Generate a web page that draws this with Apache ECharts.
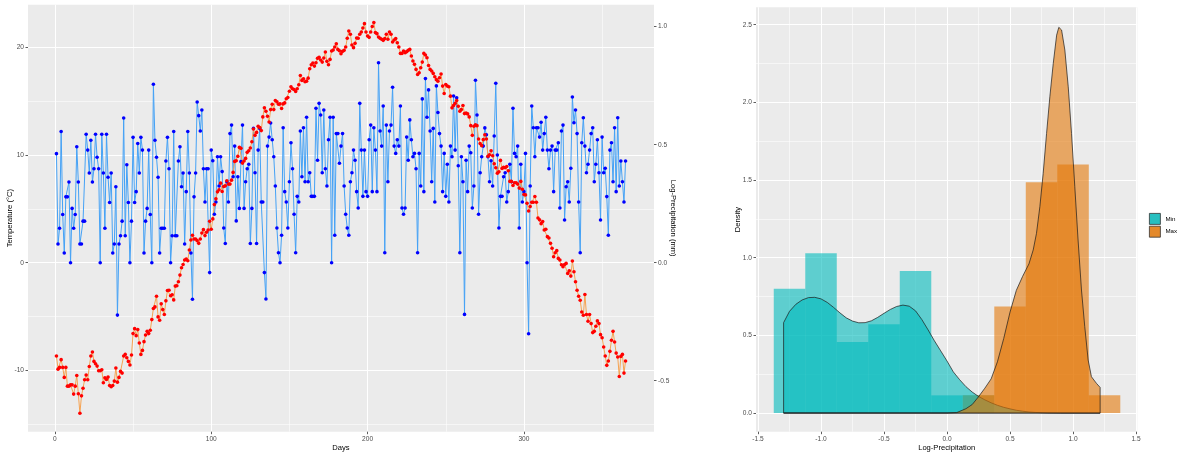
<!DOCTYPE html>
<html><head><meta charset="utf-8">
<script src="https://cdn.jsdelivr.net/npm/echarts@6/dist/echarts.min.js"></script>
<style>html,body{margin:0;padding:0;background:#fff}#c{width:1177px;height:452px}</style>
</head><body><div id="c"></div>
<script>
// ---------- Left panel data ----------
const temperature = [
-8.66,-9.88,-9.72,-9.0,-9.72,-10.65,-9.72,-11.46,-11.46,-11.34,
-11.34,-12.2,-11.46,-10.47,-12.17,-13.98,-12.36,-11.65,-10.87,-10.43,
-10.87,-9.63,-8.66,-8.29,-9.16,-9.38,-9.6,-10.03,-10.03,-9.94,
-11.15,-10.68,-10.84,-10.62,-11.4,-11.52,-11.4,-10.99,-9.78,-11.09,
-10.65,-10.09,-10.25,-8.66,-8.51,-8.82,-9.16,-9.5,-8.57,-6.58,
-6.12,-6.77,-6.21,-7.45,-8.51,-8.14,-7.33,-6.71,-6.37,-6.58,
-6.27,-5.28,-4.25,-4.1,-3.11,-5.03,-5.34,-3.82,-4.35,-4.81,
-3.54,-2.58,-2.55,-3.07,-2.98,-3.45,-2.17,-2.14,-1.77,-1.15,
-0.47,-0.16,0.25,0.34,0.19,1.18,2.11,2.55,2.2,
2.2,2.05,1.8,2.2,2.76,3.07,2.52,2.83,3.04,3.85,
3.11,4.07,5.4,5.93,6.58,6.77,7.39,6.61,7.08,7.14,
7.61,7.3,7.3,7.67,8.39,9.41,9.47,9.88,10.71,10.62,
9.25,9.44,9.69,10.25,10.4,10.65,11.24,12.42,11.83,12.1,
12.67,12.55,12.27,13.54,14.38,14.07,13.6,13.07,14.22,14.72,
14.22,15.06,14.94,14.72,14.75,14.32,14.75,
14.84,15.22,15.34,15.93,16.34,16.15,16.09,15.9,16.15,16.52,
17.39,16.93,17.08,16.8,16.86,17.14,18.01,18.39,18.54,18.26,
18.57,18.98,19.07,18.82,18.63,19.01,19.57,18.7,18.39,18.88,
19.66,19.75,20.03,20.34,19.81,19.69,19.41,19.63,19.72,20.03,
20.84,21.52,21.21,20.22,19.97,20.37,20.87,20.84,21.21,21.43,
21.8,22.2,21.43,21.06,20.93,21.43,21.93,22.3,21.37,
21.27,20.96,20.84,20.75,20.65,20.81,21.21,20.75,21.43,21.21,
20.5,20.68,20.81,20.43,20.03,19.44,19.44,19.66,19.5,19.6,
19.72,19.81,19.19,18.73,18.42,17.95,17.48,17.64,18.11,18.63,
19.44,19.29,19.04,18.32,17.95,17.8,17.58,17.27,17.0,16.86,
17.17,17.52,16.4,15.71,16.55,16.4,16.34,15.47,14.38,14.6,
14.8,15.06,14.53,14.07,14.22,14.6,13.85,13.91,13.82,13.54,
12.73,11.83,12.67,12.8,12.73,11.49,11.06,10.87,11.43,11.89,
11.49,9.88,10.03,10.4,9.94,9.19,8.82,8.32,8.45,9.5,
8.76,8.85,8.82,8.94,8.54,7.55,7.55,7.17,7.42,7.42,
7.3,6.93,7.55,6.83,6.34,6.3,5.53,4.81,5.22,5.62,
5.62,6.15,5.62,4.16,3.98,3.63,3.82,3.04,3.11,2.42,
2.3,1.8,1.34,0.56,0.93,1.12,0.4,0.25,-0.19,-0.37,
-0.16,-0.06,-0.99,-0.75,-1.24,0.16,-0.84,-1.77,-2.55,-3.11,
-3.48,-4.57,-4.88,-2.95,-4.81,-5.43,-4.81,-5.65,-6.49,-6.37,
-5.9,-5.4,-5.65,-6.68,-6.96,-7.83,-8.66,-9.53,-9.13,-8.23,
-7.2,-6.37,-7.36,-8.39,-8.76,-10.56,-8.7,-8.51,-10.25,-9.13
];
const logPrecip = [
0.462,0.079,0.146,0.556,0.204,0.041,0.279,0.279,0.342,0,
0.230,0.146,0.204,0.491,0.342,0.079,0.079,0.176,0.176,0.544,
0.477,0.380,0.519,0.342,0.398,0.544,0.447,0.398,0,0.544,
0.380,0.146,0.544,0.362,0.255,0.380,0.041,0.079,0.322,-0.222,
0.079,0.114,0.176,0.613,0.114,0.415,0.255,0,0.176,0.531,
0.255,0.301,0.505,0.380,0.531,0.477,0.041,0.176,0.230,0.477,
0.204,0,0.756,0.519,0.447,0.362,0.041,0.146,0.146,0.146,
0.431,0.531,0.398,0,0.114,0.556,0.114,0.114,0.431,0.491,
0.322,0.380,0.079,0.301,0.556,0.380,0.041,-0.155,0.279,0.380,
0.681,0.623,
0.558,0.647,0.398,0.257,0.398,0.398,-0.042,0.477,0.432,0.205,
0.257,0.449,0.325,0.449,0.386,0.147,0.081,0.343,0.257,0.547,
0.583,0.364,0.494,0.177,0.364,0.230,0.428,0.583,0.230,0.343,
0.398,0.417,0.081,0.230,0.569,0.381,0.081,0.477,0.569,0.257,
0.257,-0.042,-0.154,0.494,0.532,0.592,0.521,0.449,0.325,0.147,
0.042,0.0,0.116,0.572,
0.301,0.257,0.147,0.343,0.508,0.398,0.205,0.042,0.281,0.257,
0.558,0.364,0.572,0.343,0.616,0.343,0.381,0.281,0.281,0.281,
0.654,0.434,0.675,0.626,0.381,0.647,0.398,0.325,0.521,0.616,
0.0,0.616,0.116,0.547,0.547,0.421,0.494,0.547,0.325,0.205,
0.147,0.116,0.343,0.381,0.477,0.434,0.301,0.232,0.675,0.477,
0.281,0.477,0.301,0.281,0.521,0.583,0.301,0.572,0.477,0.301,
0.847,0.558,
0.494,0.664,0.042,0.583,0.343,0.558,0.583,0.743,0.494,0.463,
0.521,0.494,0.664,0.232,0.205,0.232,0.532,0.434,0.605,0.521,
0.449,0.463,0.398,0.042,0.463,0.325,0.694,0.301,0.780,0.616,
0.732,0.558,0.343,0.569,0.257,0.749,0.636,0.547,0.494,0.301,
0.463,0.281,0.417,0.257,0.494,0.449,0.706,0.477,0.699,0.411,
0.042,0.449,0.343,-0.219,0.434,0.301,0.494,
0.466,0.232,0.325,0.773,0.626,0.205,0.381,0.449,0.494,0.571,
0.542,0.449,0.343,0.432,0.325,0.537,0.760,0.456,0.147,0.281,
0.281,0.364,0.381,0.257,0.301,0.417,0.343,0.654,0.463,0.449,
0.494,0.147,0.417,0.257,0.301,0.463,0.0,-0.301,0.325,0.664,
0.572,0.449,0.572,0.572,0.532,0.595,0.477,0.547,0.616,0.477,
0.398,0.477,0.494,0.301,0.477,0.477,0.508,0.232,0.558,0.583,
0.181,
0.322,0.343,0.257,0.400,0.702,0.593,0.647,0.547,0.257,0.042,
0.508,0.614,0.494,0.381,0.417,0.477,0.547,0.572,0.343,0.417,
0.521,0.381,0.181,0.532,0.381,0.400,0.280,0.116,0.477,0.508,
0.343,0.572,0.301,0.614,0.325,0.431,0.343,0.257,0.431
];
const days = temperature.map((_, i) => i + 1);
const dayTicks = [0, 100, 200, 300];
const tempTicks = [-10, 0, 10, 20];
const precipTicks = [-0.5, 0, 0.5, 1.0];

// ---------- Right panel data ----------
const binEdges = [-1.375,-1.125,-0.875,-0.625,-0.375,-0.125,0.125,0.375,0.625,0.875,1.125,1.375];
const minHist = [0.800,1.029,0.457,0.571,0.914,0.114,0.114,0,0,0,0];
const maxHist = [0,0,0,0,0,0,0.114,0.686,1.486,1.600,0.114];
const minDensity = [
[-1.297,0.582],[-1.25,0.655],[-1.2,0.70],[-1.15,0.728],[-1.1,0.743],[-1.05,0.745],[-1.0,0.735],
[-0.95,0.712],[-0.9,0.68],[-0.85,0.645],[-0.8,0.613],[-0.75,0.592],[-0.7,0.581],[-0.65,0.582],
[-0.6,0.594],[-0.55,0.616],[-0.5,0.642],[-0.45,0.667],[-0.4,0.686],[-0.35,0.695],[-0.3,0.688],
[-0.25,0.658],[-0.2,0.602],[-0.15,0.535],[-0.1,0.465],[-0.05,0.40],[0,0.335],[0.05,0.265],
[0.1,0.215],[0.15,0.17],[0.2,0.135],[0.25,0.107],[0.3,0.085],[0.35,0.066],[0.4,0.05],
[0.45,0.037],[0.5,0.027],[0.55,0.018],[0.6,0.012],[0.65,0.007],[0.7,0.004],[0.8,0.001],
[0.9,0],[1.215,0]
];
const maxDensity = [
[-1.297,0],[0.0,0],[0.077,0.003],[0.15,0.028],[0.2,0.055],[0.25,0.105],[0.3,0.16],[0.35,0.22],
[0.4,0.33],[0.45,0.48],[0.5,0.65],[0.55,0.79],[0.6,0.88],[0.65,0.96],[0.684,1.05],[0.71,1.157],
[0.737,1.33],[0.763,1.543],[0.79,1.8],[0.816,2.036],[0.843,2.251],[0.87,2.433],[0.887,2.483],
[0.909,2.466],[0.935,2.337],[0.962,2.1],[0.988,1.8],[1.014,1.457],[1.04,1.114],[1.067,0.792],
[1.093,0.556],[1.12,0.341],[1.146,0.234],[1.186,0.191],[1.215,0.165]
];
const xTicksR = [-1.5,-1.0,-0.5,0,0.5,1.0,1.5];
const yTicksR = [0,0.5,1.0,1.5,2.0,2.5];
const groupNames = ['Min', 'Max'];

// ---------- styles ----------
const FONT = 'Liberation Sans, Arial, sans-serif';
const TEAL = 'rgba(0,186,188,0.6)';
const ORANGE = 'rgba(228,120,8,0.6)';
const tickLabel = {color:'#4D4D4D', fontSize:6.6, fontFamily:FONT, margin:4};
const tickStyle = {show:true, length:2.5, lineStyle:{color:'#333', width:0.8}};
const nameStyle = {color:'#000', fontSize:7.6, fontFamily:FONT};
const major = {show:true, lineStyle:{color:'#FFFFFF', width:1}};
const minor = {show:true, lineStyle:{color:'#FFFFFF', width:0.55}};
const fmt1 = v => v.toFixed(1);

function valueAxis(o) {
  return Object.assign({
    type:'value', axisLine:{show:false, onZero:false},
    splitLine:major, minorSplitLine:minor, minorTick:{show:false, splitNumber:2},
    nameLocation:'middle', nameTextStyle:nameStyle, nameMoveOverlap:false
  }, o);
}

function histSeries(name, vals, color) {
  const data = [];
  vals.forEach((v, i) => { if (v > 0) data.push([binEdges[i], binEdges[i + 1], v]); });
  return {
    type:'custom', name, xAxisIndex:1, yAxisIndex:2, data,
    encode:{x:[0,1], y:2}, itemStyle:{color},
    renderItem(params, api) {
      const a = api.coord([api.value(0), api.value(2)]);
      const b = api.coord([api.value(1), 0]);
      return {type:'rect', shape:{x:a[0], y:a[1], width:b[0]-a[0], height:b[1]-a[1]},
              style:{fill:color}};
    }
  };
}
function densSeries(name, pts, color) {
  return {
    type:'custom', name, xAxisIndex:1, yAxisIndex:2, data:pts,
    encode:{x:0, y:1}, itemStyle:{color},
    renderItem(params, api) {
      if (params.dataIndex !== 0) return null;
      const ring = [[pts[0][0], 0]].concat(pts, [[pts[pts.length-1][0], 0]]);
      return {type:'polygon', shape:{points:ring.map(p => api.coord(p))},
              style:{fill:color, stroke:'#1A1A1A', lineWidth:0.7}};
    }
  };
}

const chart = echarts.init(document.getElementById('c'), null, {renderer:'canvas'});
chart.setOption({
  animation:false,
  backgroundColor:'#FFFFFF',
  grid:[
    {left:28, top:4.7, width:626, height:427, show:true, backgroundColor:'#EBEBEB', borderWidth:0,
     containLabel:false, outerBoundsMode:'none'},
    {left:756, top:7.3, width:381.3, height:424.4, show:true, backgroundColor:'#EBEBEB', borderWidth:0,
     containLabel:false, outerBoundsMode:'none'}
  ],
  xAxis:[
    valueAxis({gridIndex:0, min:-17.2, max:383.2, splitNumber:4,
      axisTick:Object.assign({customValues:dayTicks}, tickStyle),
      axisLabel:Object.assign({customValues:dayTicks}, tickLabel),
      name:'Days', nameGap:12}),
    valueAxis({gridIndex:1, min:-1.516, max:1.51, splitNumber:6,
      axisTick:Object.assign({customValues:xTicksR}, tickStyle),
      axisLabel:Object.assign({customValues:xTicksR, formatter:fmt1}, tickLabel),
      name:'Log-Precipitation', nameGap:12.5})
  ],
  yAxis:[
    valueAxis({gridIndex:0, min:-15.69, max:23.96, splitNumber:4,
      axisTick:Object.assign({customValues:tempTicks}, tickStyle),
      axisLabel:Object.assign({customValues:tempTicks}, tickLabel),
      name:'Temperature (°C)', nameGap:14, nameRotate:90}),
    valueAxis({gridIndex:0, position:'right', min:-0.716, max:1.093, splitNumber:3,
      splitLine:{show:false}, minorSplitLine:{show:false},
      axisTick:Object.assign({customValues:precipTicks}, tickStyle),
      axisLabel:Object.assign({customValues:precipTicks, formatter:fmt1}, tickLabel),
      name:'Log-Precipitation (mm)', nameGap:15, nameRotate:-90}),
    valueAxis({gridIndex:1, min:-0.12, max:2.612, splitNumber:5,
      axisTick:Object.assign({customValues:yTicksR}, tickStyle),
      axisLabel:Object.assign({customValues:yTicksR, formatter:fmt1}, tickLabel),
      name:'Density', nameGap:14, nameRotate:90})
  ],
  legend:{
    left:1149, top:213, orient:'vertical', itemWidth:11, itemHeight:11, itemGap:1, padding:0,
    selectedMode:false, textStyle:{fontSize:6.2, color:'#000', fontFamily:FONT, overflow:'none'},
    data:[
      {name:groupNames[0], icon:'rect', itemStyle:{color:'#27BFC0', borderColor:'#333', borderWidth:0.8}},
      {name:groupNames[1], icon:'rect', itemStyle:{color:'#E4892A', borderColor:'#333', borderWidth:0.8}}
    ]
  },
  series:[
    {type:'line', name:'precip', xAxisIndex:0, yAxisIndex:1,
     data:days.map((d, i) => [d, logPrecip[i]]),
     symbol:'circle', symbolSize:3.6, showAllSymbol:true,
     lineStyle:{color:'#45A2F6', width:1}, itemStyle:{color:'#0000FF', borderWidth:0}},
    {type:'line', name:'temp', xAxisIndex:0, yAxisIndex:0,
     data:days.map((d, i) => [d, temperature[i]]),
     symbol:'circle', symbolSize:3.6, showAllSymbol:true,
     lineStyle:{color:'#F6A352', width:1}, itemStyle:{color:'#FF0000', borderWidth:0}},
    histSeries(groupNames[0], minHist, TEAL),
    histSeries(groupNames[1], maxHist, ORANGE),
    densSeries(groupNames[0], minDensity, TEAL),
    densSeries(groupNames[1], maxDensity, ORANGE)
  ]
});
</script>
</body></html>
